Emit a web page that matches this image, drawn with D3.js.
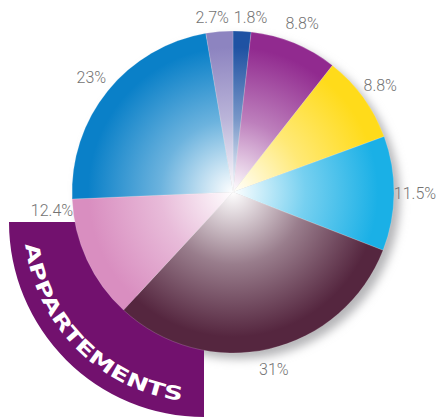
<!DOCTYPE html>
<html>
<head>
<meta charset="utf-8">
<script src="https://cdn.jsdelivr.net/npm/d3@7"></script>
<style>
  html, body { margin: 0; padding: 0; background: #fff; }
  svg { display: block; }
</style>
</head>
<body>
<div class="pie-chart"></div>
<script>
// Slice data, clockwise from 12 o'clock
const labels = ['1.8%', '8.8%', '8.8%', '11.5%', '31%', '12.4%', '23%', '2.7%'];
const values = [1.8, 8.8, 8.8, 11.5, 31, 12.4, 23, 2.7];
const colors = ['#1f52a3', '#912a8f', '#ffdb1a', '#1ab0e6', '#55263f', '#d98ec0', '#0a80c8', '#8d84c0'];
const bandTitle = 'APPARTEMENTS';

const width = 442;
const height = 418;
const cx = 233, cy = 192, radius = 161;

const svg = d3.select('.pie-chart')
  .append('svg')
  .attr('width', width)
  .attr('height', height);

const defs = svg.append('defs');

// soft drop shadow behind the pie
const blur = defs.append('filter')
  .attr('id', 'shadow')
  .attr('x', '-20%').attr('y', '-20%')
  .attr('width', '140%').attr('height', '140%');
blur.append('feGaussianBlur').attr('stdDeviation', 5);

// one radial gradient per slice: white at the center, colour at the rim
// (coordinates are in the translated pie group, so the centre is 0,0)
colors.forEach((c, i) => {
  const grad = defs.append('radialGradient')
    .attr('id', 'grad' + i)
    .attr('gradientUnits', 'userSpaceOnUse')
    .attr('cx', 0).attr('cy', 0).attr('r', radius);
  grad.append('stop').attr('offset', 0).attr('stop-color', '#ffffff');
  grad.append('stop').attr('offset', 0.45).attr('stop-color', d3.interpolateRgb('#ffffff', c)(0.6));
  grad.append('stop').attr('offset', 0.9).attr('stop-color', c);
  grad.append('stop').attr('offset', 1).attr('stop-color', c);
});

svg.append('circle')
  .attr('cx', cx + 6).attr('cy', cy + 6).attr('r', radius)
  .attr('fill', '#b5b5b8')
  .attr('filter', 'url(#shadow)');

// purple title band in the lower left quarter
const bx = 204, by = 222, bandOuter = 195;
svg.append('path')
  .attr('transform', `translate(${bx},${by})`)
  .attr('d', d3.arc()({
    innerRadius: 100,
    outerRadius: bandOuter,
    startAngle: Math.PI,
    endAngle: Math.PI * 1.5
  }))
  .attr('fill', '#72116e');

const textR = 180;
defs.append('path')
  .attr('id', 'bandPath')
  .attr('d', `M${bx - textR},${by} A${textR},${textR} 0 0 0 ${bx},${by + textR}`);

svg.append('text')
  .attr('fill', '#ffffff')
  .attr('font-family', 'DejaVu Sans')
  .attr('font-weight', 'bold')
  .attr('font-size', 19)
  .append('textPath')
  .attr('href', '#bandPath')
  .attr('startOffset', '50%')
  .attr('text-anchor', 'middle')
  .attr('textLength', 238)
  .attr('lengthAdjust', 'spacingAndGlyphs')
  .text(bandTitle);

// pie
const pie = d3.pie().sort(null).value(d => d);
const arcs = pie(values);
const arc = d3.arc().innerRadius(0).outerRadius(radius);

const g = svg.append('g').attr('transform', `translate(${cx},${cy})`);

g.selectAll('.slice')
  .data(arcs)
  .enter()
  .append('path')
  .attr('class', 'slice')
  .attr('d', arc)
  .attr('fill', (d, i) => `url(#grad${i})`)
  .attr('stroke', 'rgba(255,255,255,0.35)')
  .attr('stroke-width', 0.5);

// labels outside the rim; 12.4% is lifted above the band, tiny slices spread apart
const labelR = 182;
const angleNudge = {0: 0.04, 5: 0.33, 7: -0.03};
g.selectAll('.label')
  .data(arcs)
  .enter()
  .append('text')
  .attr('class', 'label')
  .attr('transform', (d, i) => {
    const a = (d.startAngle + d.endAngle) / 2 + (angleNudge[i] || 0);
    const x = Math.sin(a) * labelR;
    const y = -Math.cos(a) * labelR;
    return `translate(${x},${y})`;
  })
  .attr('text-anchor', 'middle')
  .attr('dy', (d, i) => (i === 0 || i === 7) ? '0.75em' : '0.35em')
  .attr('font-family', 'Roboto')
  .attr('font-weight', 300)
  .attr('font-size', 16)
  .attr('fill', '#737373')
  .text((d, i) => labels[i]);
</script>
</body>
</html>
